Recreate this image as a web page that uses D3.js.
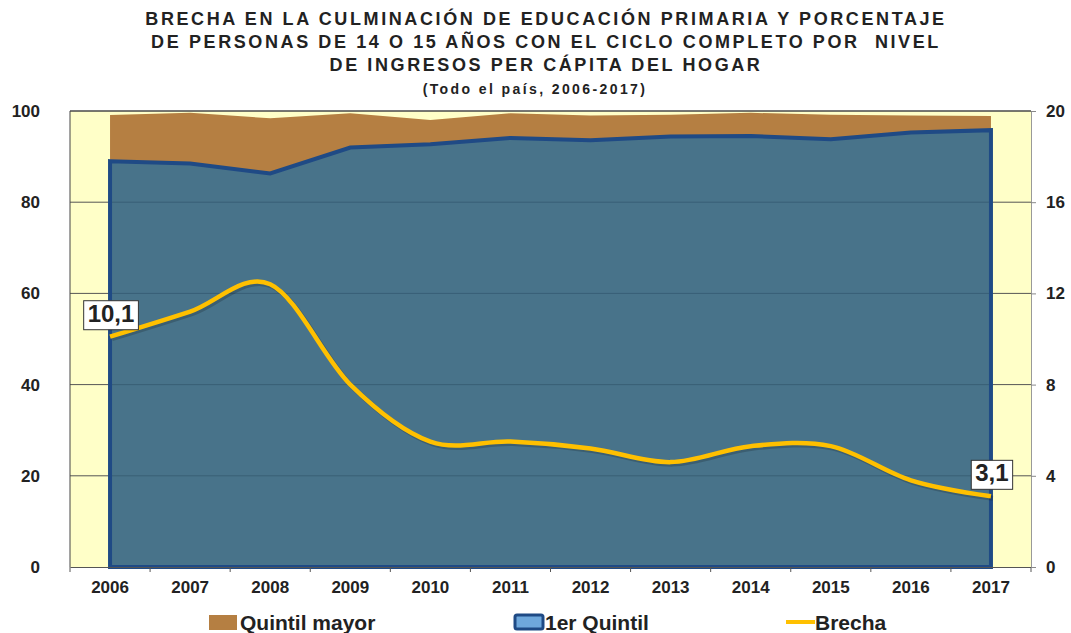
<!DOCTYPE html>
<html>
<head>
<meta charset="utf-8">
<script src="https://d3js.org/d3.v7.min.js"></script>
<style>
  body { margin: 0; background: #fff; }
  svg { display: block; font-family: Arial, "Liberation Sans", sans-serif; }
  .axis text { font-weight: bold; font-size: 17px; fill: #222; }
</style>
</head>
<body>
<svg id="chart" width="1071" height="633"></svg>
<script>
// data
var years = ["2006","2007","2008","2009","2010","2011","2012","2013","2014","2015","2016","2017"];
var quintilMayor = [99.1, 99.6, 98.4, 99.5, 98.0, 99.5, 99.0, 99.2, 99.6, 99.2, 99.0, 98.9];
var primerQuintil = [89.0, 88.5, 86.3, 92.0, 92.7, 94.1, 93.6, 94.4, 94.5, 93.8, 95.3, 95.8];
var brecha = [10.1, 11.2, 12.4, 8.0, 5.5, 5.5, 5.2, 4.6, 5.3, 5.3, 3.8, 3.1];
var leftTicks = [0, 20, 40, 60, 80, 100];
var rightTicks = [0, 4, 8, 12, 16, 20];
var titleLines = [
  "BRECHA EN LA CULMINACIÓN DE EDUCACIÓN PRIMARIA Y PORCENTAJE",
  "DE PERSONAS DE 14 O 15 AÑOS CON EL CICLO COMPLETO POR  NIVEL",
  "DE INGRESOS PER CÁPITA DEL HOGAR"
];
var subtitle = "(Todo el país, 2006-2017)";

var svg = d3.select("#chart");
var pLeft = 70, pRight = 1031, pTop = 111, pBottom = 567;

var x = d3.scaleBand().domain(years).range([pLeft, pRight]);
var y = d3.scaleLinear().domain([0, 100]).range([pBottom, pTop]);
var y2 = d3.scaleLinear().domain([0, 20]).range([pBottom, pTop]);
var cx = function(d, i){ return x(years[i]) + x.bandwidth() / 2; };

// title
svg.selectAll("text.title")
  .data(titleLines)
  .enter()
  .append("text")
    .attr("class", "title")
    .attr("x", 546)
    .attr("y", function(d, i){ return 25 + i * 23; })
    .attr("text-anchor", "middle")
    .style("font-weight", "bold")
    .style("font-size", "18px")
    .style("letter-spacing", "2.6px")
    .style("white-space", "pre")
    .style("fill", "#222")
    .text(function(d){ return d; });

svg.append("text")
  .attr("x", 535)
  .attr("y", 94)
  .attr("text-anchor", "middle")
  .style("font-weight", "bold")
  .style("font-size", "14px")
  .style("letter-spacing", "2.4px")
  .style("fill", "#222")
  .text(subtitle);

// plot background
svg.append("rect")
  .attr("x", pLeft).attr("y", pTop)
  .attr("width", pRight - pLeft).attr("height", pBottom - pTop)
  .style("fill", "#FFFFC8");

// gridlines under
svg.selectAll("line.grid")
  .data(leftTicks.slice(1))
  .enter()
  .append("line")
    .attr("class", "grid")
    .attr("x1", pLeft).attr("x2", pRight)
    .attr("y1", function(d){ return y(d); })
    .attr("y2", function(d){ return y(d); })
    .style("stroke", "#555")
    .style("stroke-width", 1);

// Quintil mayor area
var area = d3.area()
  .x(cx)
  .y0(y(0))
  .y1(function(d){ return y(d); });

svg.append("path")
  .datum(quintilMayor)
  .attr("d", area)
  .style("fill", "#B57F42");

// 1er Quintil area
svg.append("path")
  .datum(primerQuintil)
  .attr("d", area)
  .style("fill", "#48738A")
  .style("stroke", "#1F4A85")
  .style("stroke-width", 4)
  .style("stroke-linejoin", "miter");

// gridlines over the areas, faint
svg.selectAll("line.grid2")
  .data(leftTicks.slice(1, 5))
  .enter()
  .append("line")
    .attr("class", "grid2")
    .attr("x1", cx(null, 0) + 2)
    .attr("x2", cx(null, years.length - 1) - 2)
    .attr("y1", function(d){ return y(d); })
    .attr("y2", function(d){ return y(d); })
    .style("stroke", "#1d3a50")
    .style("stroke-opacity", 0.35)
    .style("stroke-width", 1);

// frame left / top
svg.append("line")
  .attr("x1", pLeft).attr("x2", pRight).attr("y1", pTop).attr("y2", pTop)
  .style("stroke", "#444").style("stroke-width", 1);
svg.append("line")
  .attr("x1", pLeft).attr("x2", pLeft).attr("y1", pTop).attr("y2", pBottom)
  .style("stroke", "#444").style("stroke-width", 1);

// Brecha line
var line = d3.line()
  .x(cx)
  .y(function(d){ return y2(d); })
  .curve(d3.curveCardinal.tension(0));

svg.append("path")
  .datum(brecha)
  .attr("d", line)
  .attr("transform", "translate(2,2)")
  .style("fill", "none")
  .style("stroke", "#000")
  .style("stroke-opacity", 0.18)
  .style("stroke-width", 5);

svg.append("path")
  .datum(brecha)
  .attr("d", line)
  .style("fill", "none")
  .style("stroke", "#FFC000")
  .style("stroke-width", 4.5)
  .style("stroke-linecap", "butt");

// axes
var xAxis = d3.axisBottom(x).tickSize(0).tickPadding(14);
var gx = svg.append("g").attr("class", "axis").attr("transform", "translate(0," + pBottom + ")").call(xAxis);
gx.select(".domain").style("stroke", "#555");
gx.selectAll(".sep")
  .data(d3.range(years.length + 1))
  .enter()
  .append("line")
    .attr("class", "sep")
    .attr("x1", function(d){ return pLeft + d * x.bandwidth(); })
    .attr("x2", function(d){ return pLeft + d * x.bandwidth(); })
    .attr("y1", 0).attr("y2", 5)
    .style("stroke", "#555");

var yAxis = d3.axisLeft(y).tickValues(leftTicks).tickSize(0).tickPadding(30);
var gy = svg.append("g").attr("class", "axis").attr("transform", "translate(" + pLeft + ",0)").call(yAxis);
gy.select(".domain").remove();

var yAxis2 = d3.axisRight(y2).tickValues(rightTicks).tickSize(5).tickPadding(10);
var gy2 = svg.append("g").attr("class", "axis").attr("transform", "translate(" + pRight + ",0)").call(yAxis2);
gy2.select(".domain").style("stroke", "#999");
gy2.selectAll(".tick line").style("stroke", "#888");

// data labels for first and last brecha values
var labelIdx = [0, years.length - 1];
var lbl = svg.selectAll("g.lbl")
  .data(labelIdx)
  .enter()
  .append("g")
    .attr("class", "lbl");
lbl.append("text")
  .attr("x", function(i){ return cx(null, i) + 1; })
  .attr("y", function(i){ return y2(brecha[i]) - 15; })
  .attr("text-anchor", "middle")
  .style("font-weight", "bold")
  .style("font-size", "24px")
  .style("fill", "#222")
  .text(function(i){ return String(brecha[i]).replace(".", ","); })
  .each(function(){
    var b = this.getBBox();
    d3.select(this.parentNode).insert("rect", "text")
      .attr("x", b.x - 4).attr("y", b.y + 1)
      .attr("width", b.width + 8).attr("height", b.height + 2)
      .style("fill", "#fff").style("stroke", "#333").style("stroke-width", 1);
  });

// legend
var legend = svg.append("g").attr("class", "legend");
legend.append("rect").attr("x", 209).attr("y", 615).attr("width", 28).attr("height", 15).style("fill", "#B57F42");
legend.append("text").attr("x", 240).attr("y", 630).text("Quintil mayor");
legend.append("rect").attr("x", 515).attr("y", 615).attr("width", 28).attr("height", 14).attr("rx", 2)
  .style("fill", "#6FA8DC").style("stroke", "#1F4A85").style("stroke-width", 3);
legend.append("text").attr("x", 545).attr("y", 630).text("1er Quintil");
legend.append("line").attr("x1", 786).attr("x2", 815).attr("y1", 622).attr("y2", 622)
  .style("stroke", "#FFC000").style("stroke-width", 4);
legend.append("text").attr("x", 815).attr("y", 630).text("Brecha");
legend.selectAll("text").style("font-weight", "bold").style("font-size", "21px").style("fill", "#222");
</script>
</body>
</html>
